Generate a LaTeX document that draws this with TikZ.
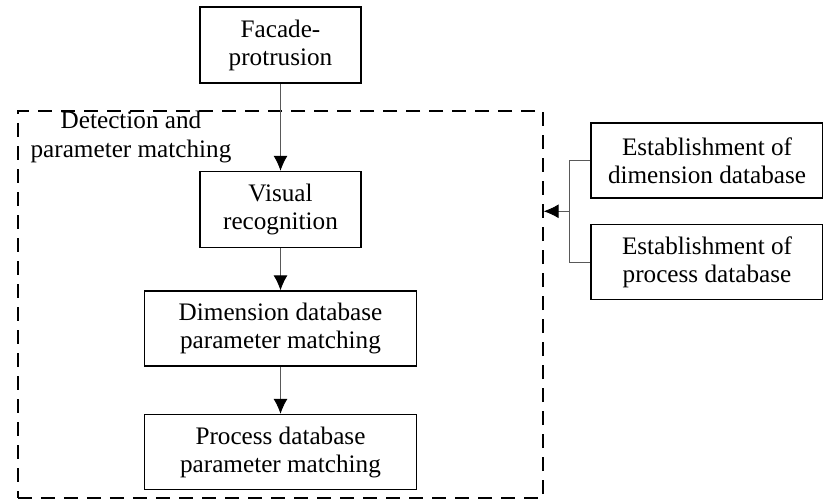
\documentclass[tikz,border=0pt]{standalone}
\usepackage{fontspec}
\setmainfont{Liberation Serif}
\usetikzlibrary{positioning,calc,arrows.meta}

\begin{document}
\begin{tikzpicture}[x=0.03cm, y=-0.03cm,
    every node/.style={font=\fontsize{21.5}{24}\selectfont},
    box/.style={rectangle, draw, line width=1.3pt, align=center, minimum width=4.83cm, minimum height=2.28cm},
    widebox/.style={box, minimum width=8.16cm, minimum height=2.25cm},
    dbbox/.style={box, minimum width=6.96cm, minimum height=2.25cm},
    region/.style={rectangle, draw, line width=1.1pt, dash pattern=on 0.42cm off 0.27cm, minimum width=15.75cm, minimum height=11.61cm},
    arrow/.style={-{Latex[length=0.45cm,width=0.42cm,color=black]}, draw=gray!70!black, line width=0.8pt},
    link/.style={draw=gray!70!black, line width=0.8pt}
]
\useasboundingbox (0,0) rectangle (823,501);

% Detection region
\node[region] (detect) at (280.5,304.5) {};
\node[align=center] (detectlabel) at (131,137) {Detection and\\parameter matching};

% Main flow
\node[box] (facade) at (280.5,45) {Facade-\\protrusion};
\node[box, below=2.61cm of facade] (visual) {Visual\\recognition};
\node[widebox, below=1.26cm of visual] (dimmatch) {Dimension database\\parameter matching};
\node[widebox, below=1.41cm of dimmatch] (procmatch) {Process database\\parameter matching};

% Databases
\node[dbbox] (dimdb) at (707,160.5) {Establishment of\\dimension database};
\node[dbbox, below=0.75cm of dimdb] (procdb) {Establishment of\\process database};
\coordinate (join) at ($(dimdb.west)!0.5!(procdb.west) + (-21,0)$);

% Arrows
\draw[arrow] (facade) -- (visual);
\draw[arrow] (visual) -- (dimmatch);
\draw[arrow] (dimmatch) -- (procmatch);
\draw[link] (dimdb.west) -| (join) |- (procdb.west);
\draw[arrow] (join) -- (join -| detect.east);

\end{tikzpicture}
\end{document}
